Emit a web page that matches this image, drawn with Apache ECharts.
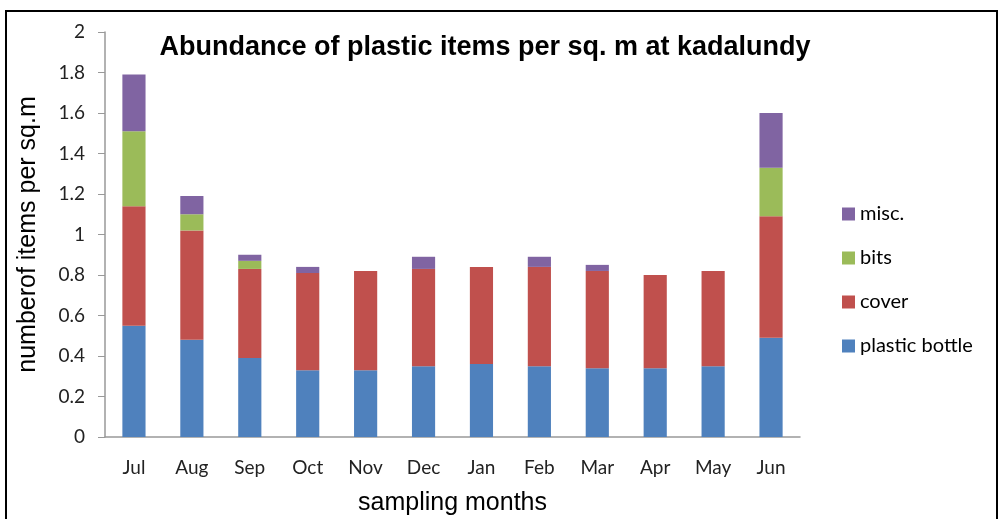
<!DOCTYPE html>
<html>
<head>
<meta charset="utf-8">
<script src="https://cdn.jsdelivr.net/npm/echarts@6/dist/echarts.min.js"></script>
<style>
  html, body { margin: 0; padding: 0; background: #fff; }
</style>
</head>
<body>
<div id="abundance_bar" style="width:1000px;height:519px;"></div>
<script>
// values (items per sq. m)
var months = ['Jul', 'Aug', 'Sep', 'Oct', 'Nov', 'Dec', 'Jan', 'Feb', 'Mar', 'Apr', 'May', 'Jun'];
var plasticBottle = [0.55, 0.48, 0.39, 0.33, 0.33, 0.35, 0.36, 0.35, 0.34, 0.34, 0.35, 0.49];
var cover = [0.59, 0.54, 0.44, 0.48, 0.49, 0.48, 0.48, 0.49, 0.48, 0.46, 0.47, 0.60];
var bits = [0.37, 0.08, 0.04, 0, 0, 0, 0, 0, 0, 0, 0, 0.24];
var misc = [0.28, 0.09, 0.03, 0.03, 0, 0.06, 0, 0.05, 0.03, 0, 0, 0.27];
var yTicks = [0, 2, 0.2]; // min, max, step

var chart = echarts.init(document.getElementById('abundance_bar'));

var option = {
    color: ['#4F81BD', '#C0504D', '#9BBB59', '#8064A2'],
    animation: false,
    title: {
        text: 'Abundance of plastic items per sq. m at kadalundy',
        left: 480,
        top: 29,
        textAlign: 'center',
        textStyle: {
            fontFamily: 'Liberation Sans',
            fontWeight: 'bold',
            fontSize: 27,
            color: '#000'
        }
    },
    graphic: [
        {
            type: 'rect',
            shape: { x: 6, y: 11, width: 991, height: 520 },
            style: { fill: 'none', stroke: '#000', lineWidth: 2 }
        }
    ],
    legend: {
        data: ['misc.', 'bits', 'cover', 'plastic bottle'],
        orient: 'vertical',
        left: 837,
        top: 199,
        itemWidth: 13,
        itemHeight: 13,
        itemGap: 24,
        icon: 'rect',
        textStyle: {
            fontFamily: 'Lato',
            fontSize: 20,
            lineHeight: 20,
            color: '#000'
        }
    },
    grid: {
        left: 105,
        right: 200,
        top: 32,
        bottom: 82,
        containLabel: false,
        outerBoundsMode: 'none'
    },
    xAxis: {
        type: 'category',
        data: months,
        name: 'sampling months',
        nameLocation: 'middle',
        nameGap: 54,
        nameTextStyle: {
            fontFamily: 'Liberation Sans',
            fontSize: 25,
            color: '#000'
        },
        axisLine: { lineStyle: { color: '#999', width: 1.5 } },
        axisTick: { length: 6, lineStyle: { color: '#999' } },
        axisLabel: {
            fontFamily: 'Lato',
            fontSize: 19,
            color: '#222',
            margin: 21
        }
    },
    yAxis: {
        type: 'value',
        min: yTicks[0],
        max: yTicks[1],
        interval: yTicks[2],
        name: 'numberof items per sq.m',
        nameLocation: 'middle',
        nameGap: 64,
        nameTextStyle: {
            fontFamily: 'Liberation Sans',
            fontSize: 25,
            color: '#000'
        },
        splitLine: { show: false },
        axisLine: { show: true, lineStyle: { color: '#999', width: 1.5 } },
        axisTick: { show: true, length: 7, lineStyle: { color: '#999' } },
        axisLabel: {
            fontFamily: 'Lato',
            fontSize: 19,
            color: '#222',
            margin: 20
        }
    },
    series: [
        {
            name: 'plastic bottle',
            type: 'bar',
            stack: 'total',
            barWidth: '40%',
            data: plasticBottle
        },
        {
            name: 'cover',
            type: 'bar',
            stack: 'total',
            data: cover
        },
        {
            name: 'bits',
            type: 'bar',
            stack: 'total',
            data: bits
        },
        {
            name: 'misc.',
            type: 'bar',
            stack: 'total',
            data: misc
        }
    ]
};

chart.setOption(option);
</script>
</body>
</html>
